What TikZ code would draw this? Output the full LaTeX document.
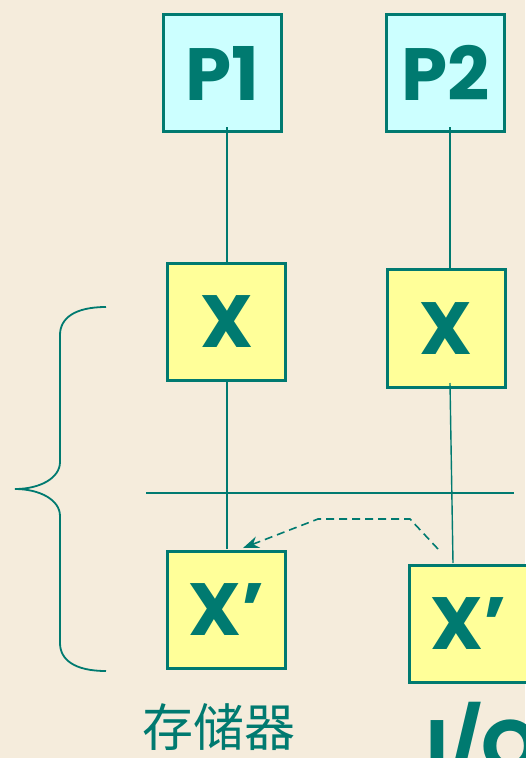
\documentclass[tikz,border=0pt]{standalone}
\usepackage{fontspec}
\newfontfamily\cjk{Noto Sans CJK SC}
\newfontfamily\boxfont{Poppins}
\usetikzlibrary{arrows.meta}
\definecolor{teal}{RGB}{0,122,112}
\definecolor{bg}{RGB}{245,236,220}
\definecolor{pfill}{RGB}{204,255,255}
\definecolor{xfill}{RGB}{255,255,153}
\tikzset{
  pbox/.style={draw=teal, line width=3pt, fill=pfill, minimum width=118pt, minimum height=117pt, inner sep=0pt, text=teal, font=\boxfont\fontsize{74}{74}\selectfont\bfseries},
  xbox/.style={pbox, fill=xfill},
  wire/.style={draw=teal, line width=1.4pt},
  bracewire/.style={draw=teal, line width=1.8pt},
  dwire/.style={draw=teal, line width=1.6pt, dash pattern=on 8pt off 5pt, -{Stealth[length=16pt,width=12pt]}},
  lbl/.style={text=teal, inner sep=0pt}
}
\begin{document}
\begin{tikzpicture}[x=1pt,y=-1pt]
\path[fill=bg] (0,0) rectangle (525,758);
\useasboundingbox (0,0) rectangle (525,758);
% boxes
\node[pbox] (P1) at (222,73) {P1};
\node[pbox] (P2) at (445.5,73) {P2};
\node[xbox] (X1) at (226.5,322) {X};
\node[xbox, minimum height=118pt] (X2) at (446,328.5) {X};
\node[xbox] (Y1) at (226.5,609.5) {X’};
\node[xbox] (Y2) at (468.5,623.5) {X’};
% wires
\coordinate (a1) at (227,127);
\coordinate (b1) at (227,262);
\coordinate (c1) at (227,382);
\coordinate (d1) at (227,549);
\coordinate (a2) at (450,127);
\coordinate (b2) at (450,268);
\coordinate (c2) at (450,383);
\coordinate (d2) at (453,563);
\draw[wire] (a1) -- (b1);
\draw[wire] (c1) -- (d1);
\draw[wire] (a2) -- (b2);
\draw[wire] (c2) -- (d2);
% bus
\coordinate (busL) at (146,493);
\coordinate (busR) at (514,493);
\draw[wire] (busL) -- (busR);
% dashed arrow
\coordinate (s0) at (438,549);
\coordinate (s1) at (410,519);
\coordinate (s2) at (318,519);
\coordinate (s3) at (243,548);
\draw[dwire] (s0) -- (s1) -- (s2) -- (s3);
% brace
\coordinate (bt) at (106,307);
\coordinate (bm) at (15,489);
\coordinate (bb) at (106,671);
\draw[bracewire] (bt) .. controls (75,307) and (60,318) .. (60,335)
  -- (60,462) .. controls (60,478) and (40,489) .. (bm)
  .. controls (40,489) and (60,500) .. (60,516)
  -- (60,643) .. controls (60,660) and (75,671) .. (bb);
% labels
\node[lbl, font=\cjk\fontsize{51}{51}\selectfont] (mem) at (219,727) {存储器};
\node[lbl, anchor=base west, font=\boxfont\fontsize{74}{74}\selectfont\bfseries] (io) at (426,772) {I/O};
\end{tikzpicture}
\end{document}
